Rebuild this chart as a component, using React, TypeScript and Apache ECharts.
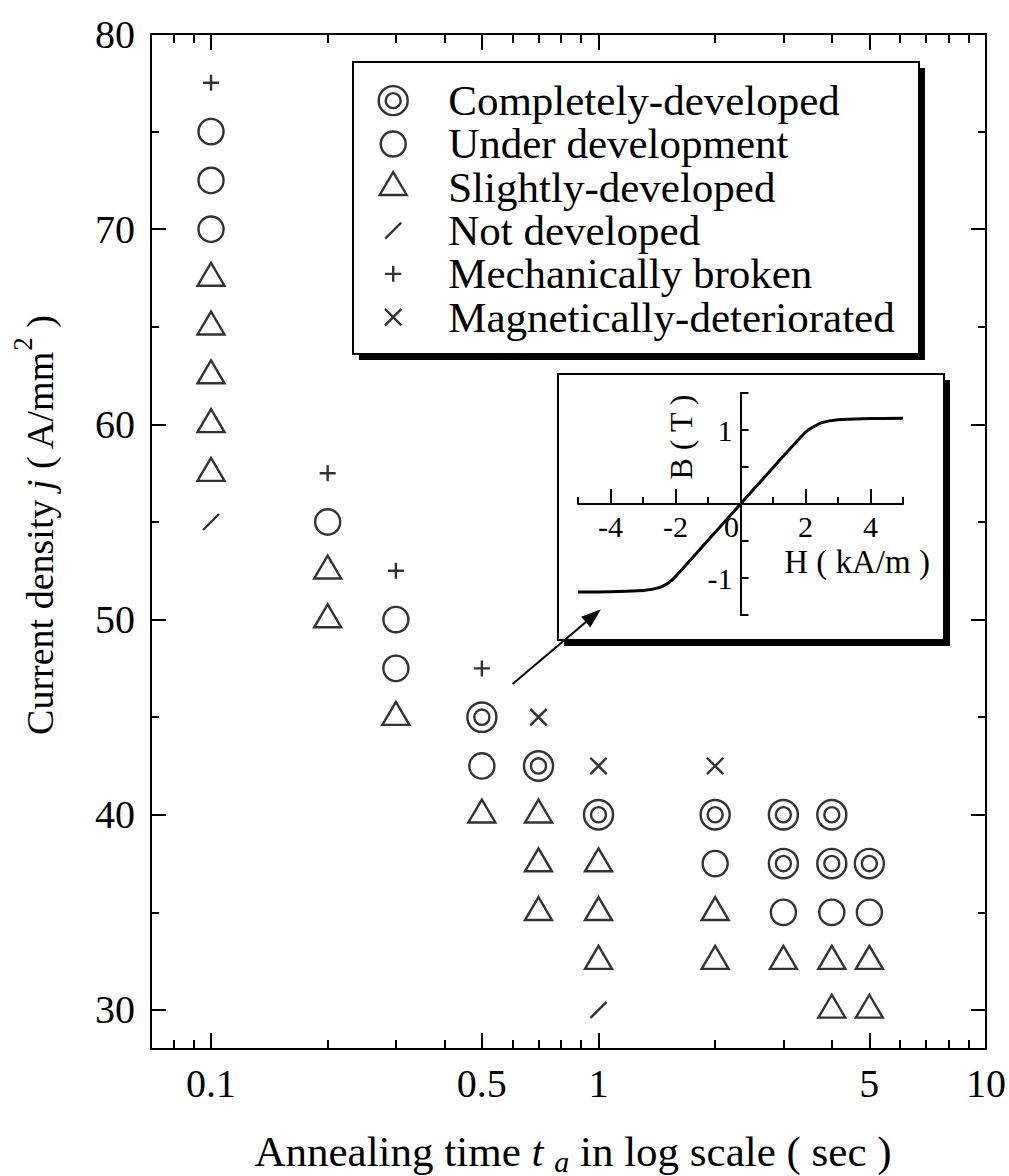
import React, { useEffect, useRef } from "react";
import * as echarts from "echarts";

const FONT = "'Liberation Serif', 'Times New Roman', Times, serif";

// Annealing time t_a (s) and current density j (A/mm²) for each domain state
const completelyDeveloped: [number, number][] = [
  [0.5, 45], [0.7, 42.5], [1, 40], [2, 40], [3, 40], [3, 37.5], [4, 40], [4, 37.5], [5, 37.5],
];
const underDevelopment: [number, number][] = [
  [0.1, 75], [0.1, 72.5], [0.1, 70], [0.2, 55], [0.3, 50], [0.3, 47.5], [0.5, 42.5],
  [2, 37.5], [3, 35], [4, 35], [5, 35],
];
const slightlyDeveloped: [number, number][] = [
  [0.1, 67.5], [0.1, 65], [0.1, 62.5], [0.1, 60], [0.1, 57.5], [0.2, 52.5], [0.2, 50],
  [0.3, 45], [0.5, 40], [0.7, 40], [0.7, 37.5], [0.7, 35], [1, 37.5], [1, 35], [1, 32.5],
  [2, 35], [2, 32.5], [3, 32.5], [4, 32.5], [4, 30], [5, 32.5], [5, 30],
];
const notDeveloped: [number, number][] = [[0.1, 55], [1, 30]];
const mechanicallyBroken: [number, number][] = [[0.1, 77.5], [0.2, 57.5], [0.3, 52.5], [0.5, 47.5]];
const magneticallyDeteriorated: [number, number][] = [[0.7, 45], [1, 42.5], [2, 42.5]];

// Axis ticks of the main plot
const xMajorTicks = [0.1, 0.5, 1, 5, 10];
const xMinorTicks = [0.08, 0.09, 0.2, 0.3, 0.4, 0.6, 0.7, 0.8, 0.9, 2, 3, 4, 6, 7, 8, 9];
const yMajorTicks = [30, 40, 50, 60, 70, 80];
const yMinorTicks = [35, 45, 55, 65, 75];

// Inset: B–H magnetisation curve
const insetH = [-5, -4, -3, -2.5, -2.2, -2, -1, 0, 1, 2, 2.2, 2.5, 3, 4, 5];
const insetB = [-1.19, -1.185, -1.17, -1.13, -1.06, -0.98, -0.49, 0, 0.49, 0.97, 1.03, 1.1, 1.14, 1.155, 1.16];
const insetHLabels = [-4, -2, 0, 2, 4];
const insetHLongTicks = [-4, -2, 2, 4];
const insetHShortTicks = [-5, -3, -1, 1, 3, 5];
const insetBTicks = [-1.5, -1, -0.5, 0, 0.5, 1, 1.5];
const insetBLabels = [-1, 1];

// Arrow from the data cloud to the inset
const arrowFrom: [number, number] = [0.6, 46.7];
const arrowTo: [number, number] = [0.97, 50.2];

// Marker outlines, all drawn in a 32x32 box (the leading moves fix the box)
const BOX = "M0,0M32,32";
const SYM = {
  double: `path://${BOX}M1.5,16A14.5,14.5,0,1,1,30.5,16A14.5,14.5,0,1,1,1.5,16ZM8.5,16A7.5,7.5,0,1,1,23.5,16A7.5,7.5,0,1,1,8.5,16Z`,
  circle: `path://${BOX}M3.5,16A12.5,12.5,0,1,1,28.5,16A12.5,12.5,0,1,1,3.5,16Z`,
  triangle: `path://${BOX}M16,0.8L29.5,23.7L2.5,23.7Z`,
  slash: `path://${BOX}M8,24L24,8`,
  plus: `path://${BOX}M16,8L16,24M8,16L24,16`,
  cross: `path://${BOX}M7.8,7.8L24.2,24.2M24.2,7.8L7.8,24.2`,
};
// filled arrow head, tip pointing up, in a 20x20 box
const ARROW_HEAD = "path://M0,20M20,0M10,0L17,20L3,20Z";

const BLACK = "#000";
const lineStyle = { color: BLACK, width: 2 };
const tickLabel = { color: BLACK, fontFamily: FONT };
const markerStroke = 2.4;

const fmtNum = (v: number) => String(Number(Number(v).toPrecision(6)));

// inset grid geometry: the H and B axes cross at the centre
const INSET = { left: 578, top: 393, width: 325, height: 222 };

function buildOption(): echarts.EChartsOption {
  const logBase = {
    type: "log" as const,
    logBase: 10,
    min: 0.07,
    max: 10,
    gridIndex: 0,
    splitLine: { show: false },
    minorTick: { show: false },
  };
  const yBase = {
    type: "value" as const,
    min: 28,
    max: 80,
    gridIndex: 0,
    splitLine: { show: false },
  };
  const xAxes: any[] = [
    {
      ...logBase,
      position: "bottom",
      axisLine: { show: true, onZero: false, lineStyle },
      axisTick: { show: true, inside: true, length: 16, customValues: xMajorTicks, lineStyle },
      axisLabel: { show: true, customValues: xMajorTicks, formatter: fmtNum, margin: 14, fontSize: 40, ...tickLabel },
    },
    {
      ...logBase,
      position: "bottom",
      axisLine: { show: false, onZero: false },
      axisTick: { show: true, inside: true, length: 9, customValues: xMinorTicks, lineStyle },
      axisLabel: { show: false },
    },
    {
      ...logBase,
      position: "top",
      axisLine: { show: true, onZero: false, lineStyle },
      axisTick: { show: true, inside: true, length: 16, customValues: xMajorTicks, lineStyle },
      axisLabel: { show: false },
    },
    {
      ...logBase,
      position: "top",
      axisLine: { show: false, onZero: false },
      axisTick: { show: true, inside: true, length: 9, customValues: xMinorTicks, lineStyle },
      axisLabel: { show: false },
    },
    {
      type: "value",
      gridIndex: 1,
      min: -5,
      max: 5,
      position: "bottom",
      offset: -INSET.height / 2,
      z: 5,
      splitLine: { show: false },
      axisLine: { show: true, onZero: false, lineStyle },
      axisTick: { show: true, inside: true, length: 15, customValues: insetHLongTicks, lineStyle },
      axisLabel: {
        show: true,
        customValues: insetHLabels,
        margin: 7,
        fontSize: 30,
        ...tickLabel,
        formatter: (v: number) => (Number(v) === 0 ? "{z|0}" : fmtNum(v)),
        rich: { z: { padding: [0, 18, 0, 0], fontSize: 30, fontFamily: FONT, color: BLACK } },
      },
    },
    {
      type: "value",
      gridIndex: 1,
      min: -5,
      max: 5,
      position: "bottom",
      offset: -INSET.height / 2,
      z: 5,
      splitLine: { show: false },
      axisLine: { show: false, onZero: false },
      axisTick: { show: true, inside: true, length: 7, customValues: insetHShortTicks, lineStyle },
      axisLabel: { show: false },
    },
  ];
  const yAxes: any[] = [
    {
      ...yBase,
      position: "left",
      axisLine: { show: true, onZero: false, lineStyle },
      axisTick: { show: true, inside: true, length: 15, customValues: yMajorTicks, lineStyle },
      axisLabel: { show: true, customValues: yMajorTicks, margin: 16, fontSize: 40, ...tickLabel },
    },
    {
      ...yBase,
      position: "left",
      axisLine: { show: false, onZero: false },
      axisTick: { show: true, inside: true, length: 8, customValues: yMinorTicks, lineStyle },
      axisLabel: { show: false },
    },
    {
      ...yBase,
      position: "right",
      axisLine: { show: true, onZero: false, lineStyle },
      axisTick: { show: true, inside: true, length: 15, customValues: yMajorTicks, lineStyle },
      axisLabel: { show: false },
    },
    {
      ...yBase,
      position: "right",
      axisLine: { show: false, onZero: false },
      axisTick: { show: true, inside: true, length: 8, customValues: yMinorTicks, lineStyle },
      axisLabel: { show: false },
    },
    {
      type: "value",
      gridIndex: 1,
      min: -1.5,
      max: 1.5,
      position: "left",
      offset: -INSET.width / 2,
      z: 5,
      splitLine: { show: false },
      axisLine: { show: true, onZero: false, lineStyle },
      axisTick: { show: true, inside: true, length: 8, customValues: insetBTicks, lineStyle },
      axisLabel: { show: true, customValues: insetBLabels, margin: 8, fontSize: 30, ...tickLabel },
    },
  ];

  const scatterBase = {
    type: "scatter" as const,
    xAxisIndex: 0,
    yAxisIndex: 0,
    symbolSize: 32,
    z: 3,
    silent: true,
    emphasis: { disabled: true },
    itemStyle: { color: "#fff", borderColor: BLACK, borderWidth: markerStroke },
  };

  const states = [
    { name: "Completely-developed", symbol: SYM.double, data: completelyDeveloped },
    { name: "Under development", symbol: SYM.circle, data: underDevelopment },
    { name: "Slightly-developed", symbol: SYM.triangle, data: slightlyDeveloped },
    { name: "Not developed", symbol: SYM.slash, data: notDeveloped },
    { name: "Mechanically broken", symbol: SYM.plus, data: mechanicallyBroken },
    { name: "Magnetically-deteriorated", symbol: SYM.cross, data: magneticallyDeteriorated },
  ];

  const series: any[] = states.map((s, i) => ({
    ...scatterBase,
    name: s.name,
    symbol: s.symbol,
    data: s.data,
    ...(i === 0
      ? {
          markLine: {
            z: 10,
            silent: true,
            animation: false,
            symbol: ["none", ARROW_HEAD],
            symbolSize: 20,
            label: { show: false },
            emphasis: { disabled: true },
            lineStyle: { color: BLACK, width: 2, type: "solid" },
            itemStyle: { color: BLACK },
            data: [[{ coord: arrowFrom }, { coord: arrowTo }]],
          },
        }
      : {}),
  }));

  series.push({
    type: "line",
    name: "B-H",
    xAxisIndex: 4,
    yAxisIndex: 4,
    data: insetH.map((h, i) => [h, insetB[i]]),
    smooth: 0.35,
    showSymbol: false,
    silent: true,
    z: 6,
    lineStyle: { color: BLACK, width: 3 },
  });

  return {
    animation: false,
    backgroundColor: "#fff",
    grid: [
      { left: 151, top: 34, width: 835, height: 1015, outerBoundsMode: "none" } as any,
      { ...INSET, outerBoundsMode: "none", z: 5 } as any,
    ],
    xAxis: xAxes,
    yAxis: yAxes,
    legend: {
      orient: "vertical",
      left: 376,
      top: 79,
      padding: 0,
      itemWidth: 100,
      itemHeight: 32,
      itemGap: 0,
      selectedMode: false,
      symbolKeepAspect: true,
      z: 6,
      data: states.map((s) => ({ name: s.name, icon: s.symbol })),
      itemStyle: { color: "#fff", borderColor: BLACK, borderWidth: markerStroke },
      textStyle: { fontSize: 43, lineHeight: 43.3, fontFamily: FONT, color: BLACK, padding: 0 },
    },
    graphic: [
      // legend frame with drop shadow
      { type: "rect", z: -1, silent: true, shape: { x: 359, y: 68, width: 566, height: 292 }, style: { fill: BLACK } },
      { type: "rect", z: -1, silent: true, shape: { x: 353, y: 62, width: 566, height: 292 }, style: { fill: "#fff", stroke: BLACK, lineWidth: 2 } },
      // inset frame with drop shadow
      { type: "rect", z: -1, silent: true, shape: { x: 564, y: 380, width: 386, height: 266 }, style: { fill: BLACK } },
      { type: "rect", z: -1, silent: true, shape: { x: 558, y: 374, width: 386, height: 266 }, style: { fill: "#fff", stroke: BLACK, lineWidth: 2 } },
      // inset axis titles
      {
        type: "text",
        z: 10,
        silent: true,
        x: 681,
        y: 437,
        rotation: Math.PI / 2,
        style: { text: "B ( T )", fontSize: 32, fontFamily: FONT, fill: BLACK, align: "center", verticalAlign: "middle" },
      },
      {
        type: "text",
        z: 10,
        silent: true,
        x: 857,
        y: 562,
        style: { text: "H ( kA/m )", fontSize: 33, fontFamily: FONT, fill: BLACK, align: "center", verticalAlign: "middle" },
      },
      // main axis titles
      {
        type: "text",
        z: 10,
        silent: true,
        x: 40,
        y: 525,
        rotation: Math.PI / 2,
        style: {
          text: "{n|Current density }{i|j}{n| ( A/mm}{s|2}{n| )}",
          align: "center",
          verticalAlign: "middle",
          fill: BLACK,
          rich: {
            n: { fontSize: 38, fontFamily: FONT, lineHeight: 48, fill: BLACK },
            i: { fontSize: 38, fontFamily: FONT, fontStyle: "italic", lineHeight: 48, fill: BLACK },
            s: { fontSize: 27, fontFamily: FONT, lineHeight: 27, padding: [0, 0, 34, 0], fill: BLACK },
          },
        } as any,
      },
      {
        type: "text",
        z: 10,
        silent: true,
        x: 573,
        y: 1151,
        style: {
          text: "{n|Annealing time }{i|t}{n| }{b|a}{n| in log scale ( sec )}",
          align: "center",
          verticalAlign: "middle",
          fill: BLACK,
          rich: {
            n: { fontSize: 43, fontFamily: FONT, lineHeight: 42, fill: BLACK },
            i: { fontSize: 43, fontFamily: FONT, fontStyle: "italic", lineHeight: 42, fill: BLACK },
            b: { fontSize: 30, fontFamily: FONT, fontStyle: "italic", lineHeight: 26, padding: [20, 0, 0, 0], fill: BLACK },
          },
        } as any,
      },
    ],
    series,
  } as any;
}

export default function App() {
  const ref = useRef<HTMLDivElement>(null);
  useEffect(() => {
    if (!ref.current) return;
    const chart = echarts.init(ref.current, null, { renderer: "svg" });
    chart.setOption(buildOption());
    return () => chart.dispose();
  }, []);
  return (
    <div
      ref={ref}
      style={{ position: "absolute", left: 0, top: 0, width: 1009, height: 1176, background: "#fff" }}
    />
  );
}
